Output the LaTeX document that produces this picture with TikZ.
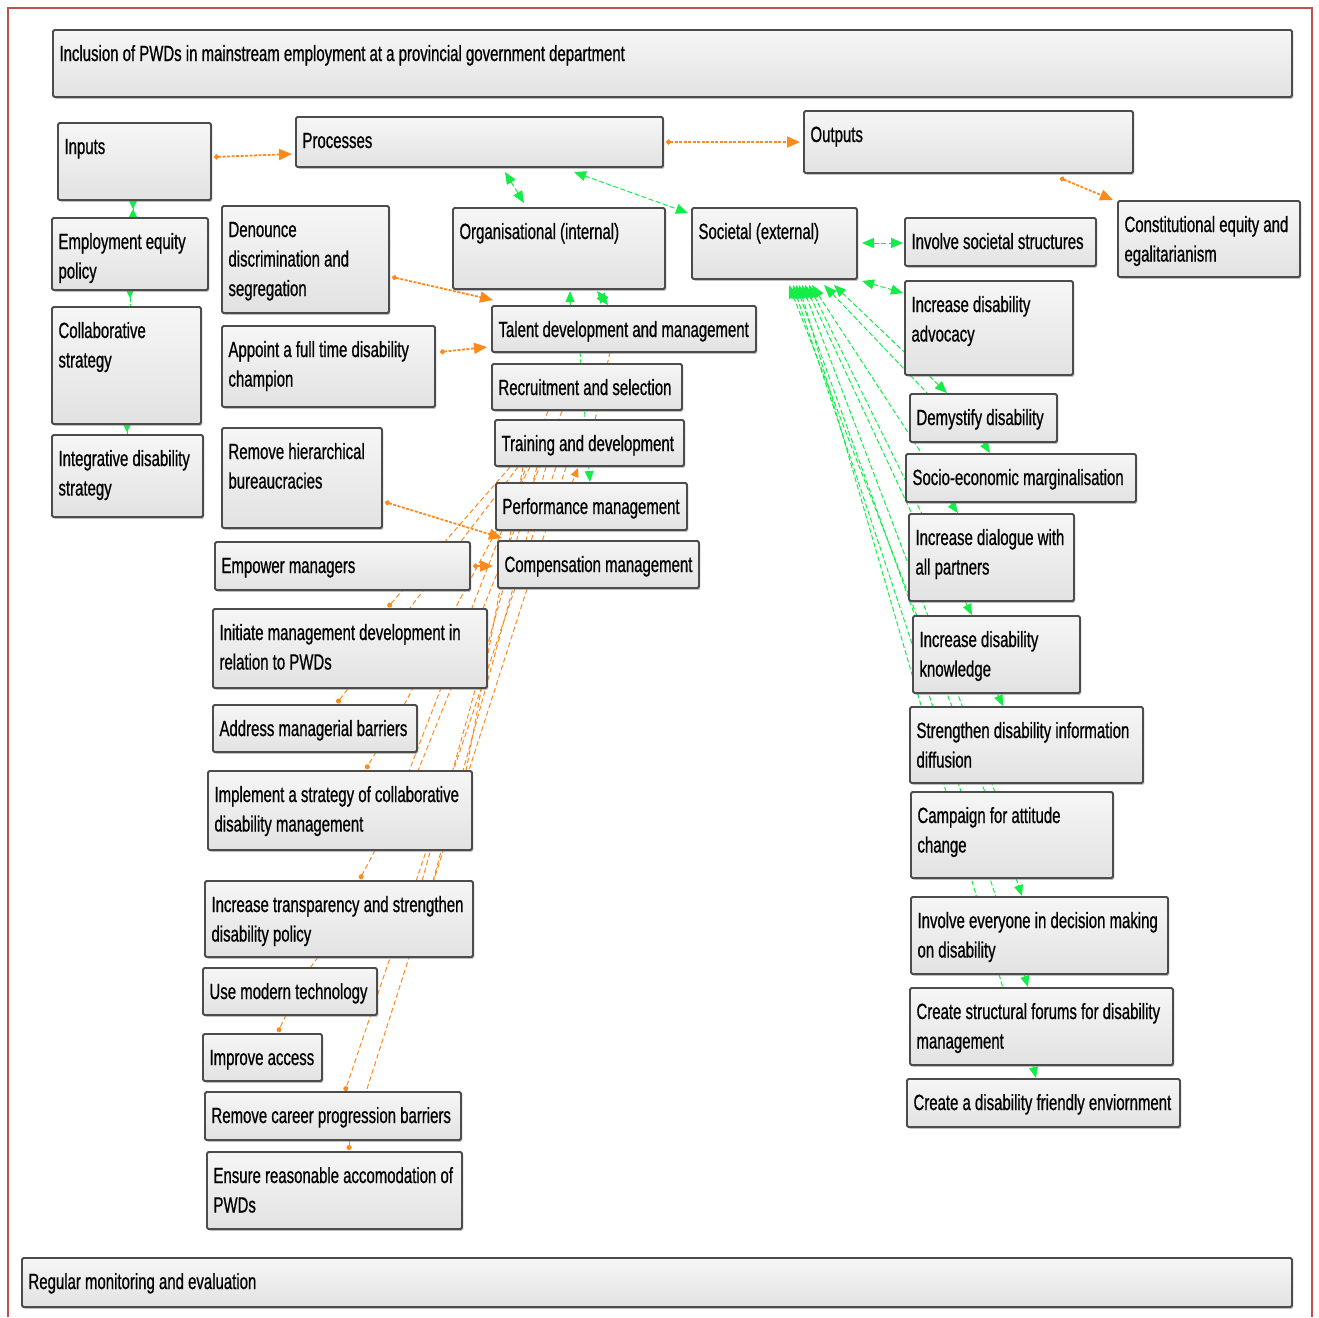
\documentclass[tikz,border=0pt]{standalone}
\usepackage{fontspec}
\setmainfont{Liberation Sans}[FakeStretch=0.68,FakeBold=0.7]
\usetikzlibrary{arrows.meta,calc,backgrounds,shadows}

\definecolor{boxline}{HTML}{4C4C4C}
\definecolor{boxtop}{HTML}{F6F6F6}
\definecolor{boxbot}{HTML}{E2E2E2}
\definecolor{linkor}{HTML}{FF8A1C}
\definecolor{linkgr}{HTML}{14EC48}
\definecolor{framered}{HTML}{C0504D}

\tikzset{
  panelbox/.style={rectangle, draw=boxline, line width=1.9pt, top color=boxtop, bottom color=boxbot,
    rounded corners=1.5pt, inner sep=0pt, outer sep=0pt,
    drop shadow={shadow xshift=1.4pt, shadow yshift=-1.8pt, opacity=.5}},
  paneltext/.style={anchor=base west, inner sep=0pt, outer sep=0pt, text=black,
    font=\fontsize{22pt}{29.5pt}\selectfont},
  omain/.style={draw=linkor, line width=1.8pt, dash pattern=on 3pt off 1.5pt,
    {Circle[length=5pt]}-{Triangle[length=13pt,width=11pt]}},
  othin/.style={draw=linkor, line width=1pt, dash pattern=on 5pt off 3pt},
  odot/.style={othin, -{Circle[length=5pt]}},
  ohead/.style={othin, -{Triangle[length=9pt,width=8pt]}},
  gthin/.style={draw=linkgr, line width=1pt, dash pattern=on 5pt off 2.5pt},
  gfan/.style={gthin, {Triangle[length=13pt,width=10pt]}-},
  gboth/.style={gthin, {Triangle[length=12pt,width=10pt]}-{Triangle[length=12pt,width=10pt]}},
  gto/.style={gthin, -{Triangle[length=11pt,width=9pt]}},
  gtick/.style={gthin, {Triangle[reversed,length=7pt,width=7pt]}-},
  ghour/.style={gthin, {Triangle[reversed,length=8pt,width=8pt]}-{Triangle[reversed,length=8pt,width=8pt]}},
}

% one text line of a panel
\newcommand\tline[1]{\hbox{#1}}
% panel: name, left, top, right, bottom, lines
\newcommand\panel[6]{%
  \node[panelbox, minimum width=#4pt-#2pt, minimum height=#5pt-#3pt, anchor=north west] (#1) at (#2,#3) {};
  \node[paneltext] (#1-t) at ($(#1.north west)+(6.5,31)$) {\vtop{#6}};
}

\begin{document}
\begin{tikzpicture}[x=1pt,y=-1pt]
\useasboundingbox (0,0) rectangle (1319,1317);

% outer frame
\draw[framered, line width=2pt] (8,1317) -- (8,8) -- (1312,8) -- (1312,1317);

% panels
\panel{title}{53}{30}{1292}{97}{\tline{Inclusion of PWDs in mainstream employment at a provincial government department}}
\panel{inputs}{58}{123}{211}{200}{\tline{Inputs}}
\panel{proc}{296}{117}{663}{167}{\tline{Processes}}
\panel{outputs}{804}{111}{1133}{173}{\tline{Outputs}}
\panel{constit}{1118}{201}{1300}{277}{\tline{Constitutional equity and}\tline{egalitarianism}}
\panel{empeq}{52}{218}{208}{290}{\tline{Employment equity}\tline{policy}}
\panel{collab}{52}{307}{201}{424}{\tline{Collaborative}\tline{strategy}}
\panel{integ}{52}{435}{203}{517}{\tline{Integrative disability}\tline{strategy}}
\panel{denounce}{222}{206}{389}{313}{\tline{Denounce}\tline{discrimination and}\tline{segregation}}
\panel{appoint}{222}{326}{435}{407}{\tline{Appoint a full time disability}\tline{champion}}
\panel{remhier}{222}{428}{382}{528}{\tline{Remove hierarchical}\tline{bureaucracies}}
\panel{empower}{215}{542}{470}{590}{\tline{Empower managers}}
\panel{initiate}{213}{609}{487}{688}{\tline{Initiate management development in}\tline{relation to PWDs}}
\panel{address}{213}{705}{417}{752}{\tline{Address managerial barriers}}
\panel{implement}{208}{771}{472}{850}{\tline{Implement a strategy of collaborative}\tline{disability management}}
\panel{transp}{205}{881}{473}{957}{\tline{Increase transparency and strengthen}\tline{disability policy}}
\panel{usemod}{203}{968}{377}{1015}{\tline{Use modern technology}}
\panel{improve}{203}{1034}{322}{1081}{\tline{Improve access}}
\panel{career}{205}{1092}{461}{1140}{\tline{Remove career progression barriers}}
\panel{ensure}{207}{1152}{462}{1229}{\tline{Ensure reasonable accomodation of}\tline{PWDs}}
\panel{monitor}{22}{1258}{1292}{1307}{\tline{Regular monitoring and evaluation}}
\panel{org}{453}{208}{665}{289}{\tline{Organisational (internal)}}
\panel{soc}{692}{208}{857}{279}{\tline{Societal (external)}}
\panel{talent}{492}{306}{756}{352}{\tline{Talent development and management}}
\panel{recruit}{492}{364}{682}{410}{\tline{Recruitment and selection}}
\panel{training}{495}{420}{684}{466}{\tline{Training and development}}
\panel{perf}{496}{483}{687}{530}{\tline{Performance management}}
\panel{comp}{498}{541}{699}{588}{\tline{Compensation management}}
\panel{invsoc}{905}{218}{1096}{266}{\tline{Involve societal structures}}
\panel{advoc}{905}{281}{1073}{375}{\tline{Increase disability}\tline{advocacy}}
\panel{demyst}{910}{394}{1057}{442}{\tline{Demystify disability}}
\panel{socio}{906}{454}{1136}{502}{\tline{Socio-economic marginalisation}}
\panel{dialog}{909}{514}{1074}{601}{\tline{Increase dialogue with}\tline{all partners}}
\panel{knowl}{913}{616}{1080}{693}{\tline{Increase disability}\tline{knowledge}}
\panel{strength}{910}{707}{1143}{783}{\tline{Strengthen disability information}\tline{diffusion}}
\panel{campaign}{911}{792}{1113}{878}{\tline{Campaign for attitude}\tline{change}}
\panel{involve}{911}{897}{1168}{974}{\tline{Involve everyone in decision making}\tline{on disability}}
\panel{forums}{910}{988}{1173}{1065}{\tline{Create structural forums for disability}\tline{management}}
\panel{friendly}{907}{1079}{1180}{1127}{\tline{Create a disability friendly enviornment}}

\begin{scope}[on background layer]
% main orange links
\draw[omain] ($(inputs.north west)+(156,34)$) -- ($(proc.north west)+(-4,37)$);
\draw[omain] ($(proc.north west)+(370,25)$) -- ($(outputs.north west)+(-4,31)$);
\draw[omain] ($(outputs.north west)+(256,67)$) -- ($(constit.north west)+(-5,-1)$);
\draw[omain] ($(denounce.north west)+(170,71)$) -- ($(talent.north west)+(1,-6)$);
\draw[omain] ($(appoint.north west)+(218,26)$) -- ($(talent.north west)+(-5,41)$);
\draw[omain] ($(remhier.north west)+(163,74)$) -- ($(comp.north west)+(4,-3)$);
\draw[omain] ($(empower.north west)+(258,24)$) -- ($(comp.north west)+(-5,25)$);

% thin orange links
\draw[odot]  ($(training.north west)+(15,47)$) -- ($(initiate.north west)+(175,-2)$);
\draw[odot]  ($(training.north west)+(23,47)$) -- ($(address.north west)+(124,-2)$);
\draw[othin] ($(training.north west)+(35,47)$) -- ($(address.north west)+(191,0)$);
\draw[othin] ($(recruit.north west)+(56,47)$) -- ($(implement.north west)+(201,0)$);
\draw[othin] ($(recruit.north west)+(70,47)$) -- ($(implement.north west)+(210,0)$);
\draw[othin] ($(training.north west)+(28,47)$) -- ($(implement.north west)+(258,0)$);
\draw[othin] ($(training.north west)+(42,47)$) -- ($(transp.north west)+(217,0)$);
\draw[othin] ($(training.north west)+(51,47)$) -- ($(transp.north west)+(228,0)$);
\draw[odot]  ($(training.north west)+(61,47)$) -- ($(career.north west)+(140,-1)$);
\draw[othin] ($(training.north west)+(71,47)$) -- ($(career.north west)+(161,0)$);
\draw[odot]  ($(address.north west)+(163,47)$) -- ($(implement.north west)+(158,-2)$);
\draw[odot]  ($(implement.north west)+(167,79)$) -- ($(transp.north west)+(155,-2)$);
\draw[othin] ($(transp.north west)+(113,76)$) -- ($(usemod.north west)+(107,0)$);
\draw[odot]  ($(usemod.north west)+(83,47)$) -- ($(improve.north west)+(75,-2)$);
\draw[odot]  ($(career.north west)+(144,48)$) -- ($(ensure.north west)+(142,-2)$);
\draw[othin] ($(talent.north west)+(118,46)$) -- ($(training.north west)+(100,0)$);
\draw[ohead] ($(perf.north west)+(76,0)$) -- ($(training.north west)+(83,48)$);

% green links fanning out of the societal panel
\draw[gboth] ($(soc.north west)+(142,77)$) -- ($(demyst.north west)+(37,-1)$);
\draw[gfan] ($(soc.north west)+(132,77)$) -- ($(demyst.north west)+(18,0)$);
\draw[gfan] ($(soc.north west)+(120,77)$) -- ($(socio.north west)+(16,0)$);
\draw[gfan] ($(soc.north west)+(117,77)$) -- ($(dialog.north west)+(13,0)$);
\draw[gfan] ($(soc.north west)+(113,77)$) -- ($(dialog.north west)+(3,0)$);
\draw[gfan] ($(soc.north west)+(104,77)$) -- ($(knowl.north west)+(2,0)$);
\draw[gfan] ($(soc.north west)+(107,77)$) -- ($(forums.north west)+(93,0)$);
\draw[gfan] ($(soc.north west)+(101,77)$) -- ($(involve.north west)+(85,0)$);
\draw[gfan] ($(soc.north west)+(97,77)$) -- ($(campaign.north west)+(74,0)$);
\draw[gfan] ($(soc.north west)+(110,77)$) -- ($(campaign.north west)+(84,0)$);

% short green links
\draw[ghour] ($(inputs.north west)+(75,78)$) -- ($(empeq.north west)+(81,-1)$);
\draw[gtick] ($(empeq.north west)+(78,73)$) -- ($(collab.north west)+(78,-1)$);
\draw[gtick] ($(collab.north west)+(75,118)$) -- ($(integ.north west)+(75,-1)$);
\draw[gboth] ($(proc.north west)+(209,55)$) -- ($(org.north west)+(71,-5)$);
\draw[gboth] ($(proc.north west)+(278,55)$) -- ($(soc.north west)+(-4,5)$);
\draw[gboth] ($(soc.north west)+(170,35)$) -- ($(invsoc.north west)+(-2,25)$);
\draw[gboth] ($(soc.north west)+(170,73)$) -- ($(advoc.north west)+(-2,12)$);
\draw[gto] ($(talent.north west)+(78,0)$) -- ($(org.north west)+(117,83)$);
\draw[gboth] ($(org.north west)+(144,83)$) -- ($(talent.north west)+(116,-1)$);
\draw[gto] ($(talent.north west)+(88,46)$) -- ($(perf.north west)+(94,-1)$);

% green chain down the right column
\draw[gto] ($(demyst.north west)+(73,48)$) -- ($(socio.north west)+(84,-1)$);
\draw[gto] ($(socio.north west)+(44,48)$) -- ($(dialog.north west)+(49,-1)$);
\draw[gto] ($(dialog.north west)+(56,87)$) -- ($(knowl.north west)+(59,-1)$);
\draw[gto] ($(knowl.north west)+(84,77)$) -- ($(strength.north west)+(93,-1)$);
\draw[gto] ($(campaign.north west)+(105,86)$) -- ($(involve.north west)+(111,-1)$);
\draw[gto] ($(involve.north west)+(113,77)$) -- ($(forums.north west)+(118,-1)$);
\draw[gto] ($(forums.north west)+(123,77)$) -- ($(friendly.north west)+(129,-1)$);
\end{scope}
\end{tikzpicture}
\end{document}
